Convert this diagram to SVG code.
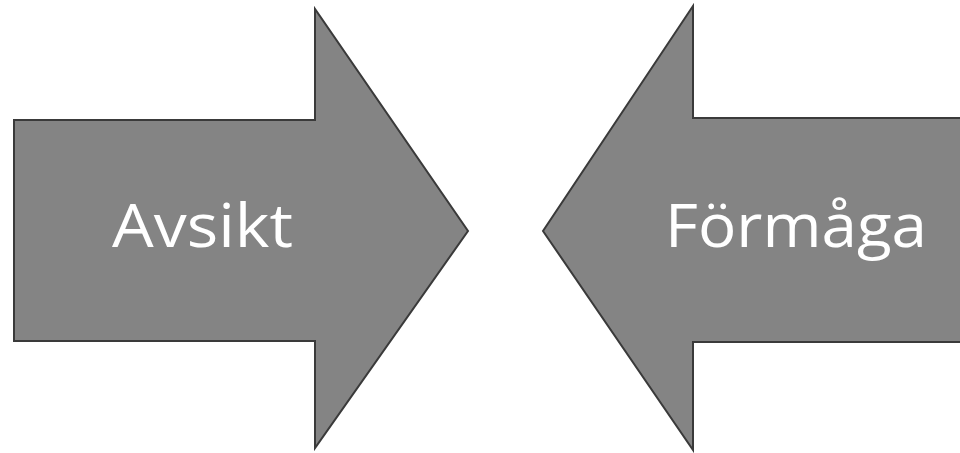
<svg xmlns="http://www.w3.org/2000/svg" width="960" height="453" viewBox="0 0 960 453">
<style>
.arrow{fill:#848484;stroke:#3a3a3a;stroke-width:2;stroke-linejoin:miter}
.lbl{font-family:"Open Sans","Noto Sans",sans-serif;font-size:60px;fill:#ffffff}
</style>
<rect width="960" height="453" fill="#ffffff"/>
<g id="avsikt">
<polygon class="arrow" points="14,120 315,120 315,9 468,231 315,448 315,341 14,341"/>
<text class="lbl" x="112" y="247" textLength="181" lengthAdjust="spacingAndGlyphs">Avsikt</text>
</g>
<g id="formaga">
<polygon class="arrow" points="962,118 693,118 693,6 543,231 693,450 693,342 962,342"/>
<text class="lbl" x="665" y="247" textLength="262" lengthAdjust="spacingAndGlyphs">Förmåga</text>
</g>
<g id="connectors"></g>
</svg>
